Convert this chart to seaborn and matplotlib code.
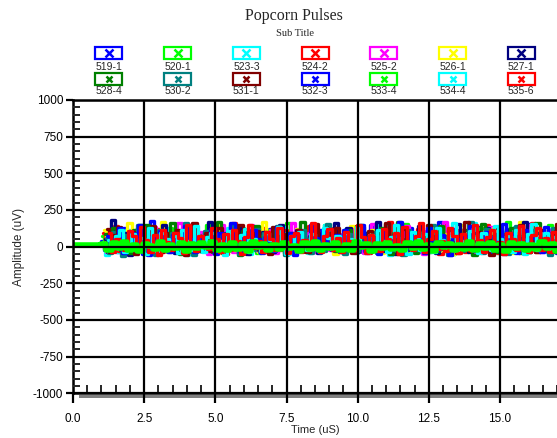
import numpy as np
import pandas as pd
import seaborn as sns
import matplotlib
matplotlib.use("Agg")
import matplotlib.pyplot as plt
from matplotlib.patches import Rectangle
from matplotlib.lines import Line2D
from matplotlib.ticker import MultipleLocator, FormatStrFormatter

# series names and colours (legend order)
labels = ['519-1', '520-1', '523-3', '524-2', '525-2', '526-1', '527-1',
          '528-4', '530-2', '531-1', '532-3', '533-4', '534-4', '535-6']
colors = ['#0000ff', '#00ff00', '#00ffff', '#ff0000', '#ff00ff', '#ffff00', '#000080',
          '#008000', '#008080', '#800000', '#0000ff', '#00ff00', '#00ffff', '#ff0000']

# amplitudes (uV)
s519 = [40, -25, 90, 15, -40, 130, 55, -10, 80, 5, -50, 65, 175, -20, 30, 110, -15, 50, 0, 95,
        -35, 120, 25, -30, 70, 40, -20, 100, 10, -45, 60, 140, -10, 35, 85, -30, 20, 105, -25, 50,
        120, -15, 70, 10, -40, 95, 30, 60, -20, 85, 15, -35, 110, 45, -10, 75,
        65, -30, 20, 115, -5, 45, -40, 90, 150, 10, -25, 55, 100, -15, 35, -50, 80, 125, 0, -35,
        60, 20, -20, 95, 165, -10, 40, -45, 70, 110, 5, -30, 50, 135, -15, 25, -40, 85, 15, -20,
        120, 45, -5, -35, 75, 155, 30, -25, 60, -10, 90, 20, -45, 105]
s520 = [70, -15, 45, 110, -30, 20, 85, -5, 60, 150, -25, 35, 90, -40, 15, 70, 125, -20, 55, 5,
        100, -35, 40, 80, -10, 145, 25, -30, 65, 10, 95, -20, 50, 130, -15, 30, 75, -45, 20, 110,
        60, -25, 85, 5, 160, -10, 40, 70, -30, 55, 100, -20, 35, 150, 10, 60,
        25, -40, 95, 60, -15, 135, 10, -30, 50, 85, -20, 115, 40, -5, -45, 70, 155, 20, -25, 60,
        100, -35, 30, -10, 80, 140, 15, -50, 45, 95, -20, 65, 5, -30, 125, 50, -15, 35, -40, 90,
        165, 20, -25, 70, 10, -35, 110, 55, -5, 40, 145, -20, 25, 80]
s523 = [30, -60, 85, 20, -35, 60, 110, -25, 45, 0, 75, -45, 95, 30, -15, 130, 50, -30, 15, 80,
        -55, 40, 105, -20, 65, 10, -40, 90, 35, -15, 125, 55, -25, 20, 70, -50, 45, 100, -10, 60,
        15, -35, 85, 135, -20, 40, 75, -5, 30, -45, 95, 50, -25, 145, 20, -10,
        -30, 65, 120, 15, -45, 40, 90, -20, 55, 150, -10, 30, -55, 80, 25, -35, 115, 60, -15, 45,
        -40, 95, 130, 5, -25, 70, 20, -50, 105, 35, -10, 85, 160, -30, 50, -20, 75, 15, -45, 100,
        40, -5, 135, 60, -35, 25, 90, -15, 55, -40, 120, 30, -25, 70]
s524 = [95, -20, 60, 140, -30, 25, 80, -45, 110, 35, -15, 70, 5, 120, -35, 50, 90, -25, 15, 65,
        -40, 150, 30, -10, 85, 45, -30, 100, 20, -50, 75, 160, -15, 40, 95, -25, 55, 10, 130, -35,
        70, 25, -20, 110, 45, -5, 80, -40, 60, 140, 15, -30, 90, 35, -15, 125,
        50, -35, 85, 20, -15, 135, 60, -45, 100, 30, -25, 75, 165, -10, 45, -40, 90, 15, -30, 120,
        55, -20, 35, 80, -50, 145, 25, -15, 65, 110, -35, 40, 5, -25, 95, 150, -10, 60, -45, 85,
        20, -30, 125, 45, -15, 70, 160, -40, 30, -20, 100, 55, -5, 80]
s525 = [20, -35, 50, 95, -15, 70, -45, 30, 110, -20, 60, 5, 135, -30, 45, 85, -10, 25, 160, -40,
        65, 15, -25, 100, 40, -50, 80, 10, 150, -20, 55, -35, 90, 30, -15, 145, 50, -30, 70, 5,
        115, -45, 35, 80, -10, 160, 25, -25, 60, 95, -40, 45, 10, 130, -20, 65,
        -30, 85, 40, -15, 125, 10, -45, 70, 155, -20, 35, 95, -35, 55, 5, -25, 140, 65, -10, 30,
        -50, 105, 45, -20, 80, 165, -30, 25, 90, -15, 50, 120, -40, 15, 75, -25, 135, 40, -5, 60,
        -45, 100, 20, -30, 85, 150, -15, 45, -35, 70, 110, -20, 30, 95]
s526 = [110, -30, 25, 70, -10, 45, 160, -25, 55, 15, -40, 85, 30, -20, 165, 50, -5, 20, -35, 75,
        40, 110, -15, 60, -30, 90, 10, 150, -45, 35, 65, -20, 105, 25, -10, 80, 45, -35, 170, 15,
        -25, 55, 90, -5, 30, -40, 120, 60, -15, 45, 155, 10, -30, 70, 25, -50,
        35, -20, 95, 140, -35, 20, 65, -10, 115, 50, -45, 80, 25, -15, 160, 40, -30, 70, -5, 105,
        55, -40, 30, 125, -20, 85, 15, -50, 60, 145, -10, 40, 95, -35, 20, 75, -25, 130, 50, -15,
        35, -45, 90, 165, 10, -30, 65, 110, -20, 45, -40, 80, 25, 135]
s527 = [55, -40, 180, 20, -10, 95, -55, 40, 75, -25, 125, 10, -35, 60, 150, -15, 30, -45, 85, 45,
        -20, 110, 5, -30, 70, 165, -10, 35, -40, 90, 25, -15, 135, 50, -50, 65, 15, -25, 100, 40,
        -35, 80, 145, -5, 20, -30, 115, 55, -20, 75, 10, -45, 90, 30, -15, 160,
        -25, 70, 125, 15, -40, 50, 95, -15, 35, 170, -30, 60, 5, -50, 110, 45, -20, 85, -35, 140,
        25, -10, 75, -45, 100, 55, -25, 30, 155, -15, 65, -40, 90, 20, -30, 130, 45, -5, 80, -50,
        115, 35, -20, 60, 165, -35, 25, 95, -10, 50, -45, 120, 40, 75]
s528 = [85, -30, 130, 40, -20, 70, -45, 110, 25, -10, 145, 55, -35, 90, 15, -25, 160, 35, -50, 75,
        -15, 120, 45, -30, 95, 10, -40, 165, 60, -20, 80, 25, -55, 105, 40, -15, 140, 70, -30, 55,
        -10, 125, 30, -45, 90, 15, -25, 165, 50, -35, 75, 20, -15, 135, 45, -30,
        60, -40, 110, 25, -20, 150, 45, -35, 80, -10, 125, 30, -50, 95, 165, -25, 55, 15, -45, 100,
        70, -15, 35, -30, 140, 50, -40, 85, 20, -20, 115, 60, -55, 40, 155, -10, 75, -35, 105, 25,
        -25, 130, 45, -45, 90, 10, -15, 160, 55, -30, 70, -40, 120, 35]
s530 = [60, -45, 100, 25, -65, 80, 35, -30, 145, 50, -20, 70, -55, 115, 15, -35, 90, 40, -15, 160,
        25, -60, 75, -25, 105, 45, -40, 85, 20, -10, 150, 55, -50, 65, 30, -20, 120, -35, 95, 40,
        -15, 140, 10, -55, 80, 35, -25, 110, 50, -45, 70, 15, -30, 155, 25, -10,
        40, -50, 85, 20, -30, 135, 55, -15, 100, -45, 70, 155, 30, -25, 60, -60, 115, 45, -20, 90,
        10, -40, 145, 35, -15, 75, -55, 105, 50, -30, 80, 165, -10, 40, -45, 120, 25, -25, 95, 60,
        -50, 70, 140, -20, 35, -35, 110, 45, -10, 85, -55, 130, 20, 65]
s531 = [120, -35, 80, 135, -20, 45, 100, -50, 70, 25, -15, 140, 60, -40, 90, 15, -25, 110, 35, -55,
        75, 160, -20, 55, 95, -30, 40, 125, -45, 65, 10, -15, 150, 80, -35, 50, 105, -25, 30, -50,
        135, 70, -10, 85, 45, -30, 115, 20, -40, 60, 155, -20, 40, 90, -15, 130,
        -25, 95, 50, -45, 140, 20, -15, 105, 65, -35, 35, 160, -20, 80, -50, 120, 45, -10, 90, 25,
        -40, 150, 70, -25, 55, -15, 110, 30, -45, 85, 165, -30, 40, 100, -20, 60, -55, 130, 15, -10,
        95, 45, -35, 145, 75, -20, 35, -40, 115, 55, -15, 85, 155, 25]
s532 = [75, -30, 50, 125, -45, 20, 90, -15, 150, 35, -60, 65, -20, 105, 45, -35, 80, 10, -25, 140,
        55, -40, 70, 25, -15, 120, -50, 95, 40, -20, 160, 30, -35, 85, -10, 110, 50, -45, 65, 15,
        -30, 135, 40, -20, 90, -55, 75, 25, -10, 145, 60, -35, 100, 20, -25, 80,
        -40, 115, 35, -15, 90, 150, -30, 60, 10, -50, 105, 45, -20, 75, 165, -35, 25, 95, -10, 55,
        -45, 130, 40, -25, 80, 15, -55, 120, 50, -15, 70, 140, -30, 30, -40, 100, 65, -20, 45, 155,
        -10, 85, -45, 35, 110, -25, 60, 20, -35, 135, 50, -15, 90, 75]
s533 = [10, 10, 10, 10, 10, 10,
        15, -20, 25, -10, 30, -25, 10, -30, 20, 5, -15, 28, -22, 12, -8, 26, -28, 18, -12, 22,
        -5, 30, -20, 8, -26, 24, -14, 16, -30, 28, -6, 20, -24, 10, -18, 26, -10, 4, -28, 22,
        -16, 30, -22, 14, -8, 24, -26, 12, -20, 28, -4, 18, -30, 20, -12, 26, -18, 6, -24, 22,
        -10, 30, -16, 14, -28, 24, -6, 20, -22, 10, -14, 28, -26, 16, -8, 22, -20, 12, -30, 26,
        -12, 18, -24, 8, -16, 30, -10, 20, -28, 14]
s534 = [45, -25, 70, 115, -40, 30, 85, -15, 60, -50, 130, 20, -30, 95, 50, -10, 75, -45, 110, 35,
        -20, 140, 15, -35, 65, 90, -25, 40, -55, 105, 25, -15, 80, 120, -40, 55, 10, -30, 95, 45,
        -20, 135, 30, -50, 70, -10, 100, 40, -25, 85, 15, -35, 125, 60, -15, 75,
        -30, 95, 50, -20, 135, 25, -45, 80, -10, 115, 40, -35, 65, 150, -15, 30, -50, 100, 55, -25,
        85, 10, -40, 125, 45, -20, 70, 160, -30, 35, -10, 105, 60, -45, 90, 20, -25, 140, 50, -15,
        75, -35, 110, 30, -50, 85, 155, -20, 40, 95, -30, 65, 15, 120]
s535 = [90, -40, 55, 20, -25, 105, 70, -15, 135, 45, -35, 80, -55, 115, 30, -20, 95, 60, -45, 150,
        25, -30, 75, 10, -15, 125, 50, -40, 85, -25, 110, 35, -50, 65, 145, -10, 40, -35, 100, 55,
        -20, 130, 15, -45, 75, 90, -30, 45, -15, 160, 25, -40, 70, 120, -25, 60,
        -35, 100, 40, -20, 145, 65, -45, 80, 15, -30, 120, 55, -10, 90, -50, 135, 30, -25, 75, 160,
        -40, 50, 105, -15, 35, -30, 125, 70, -45, 85, 20, -20, 150, 45, -35, 65, 110, -10, 30, -50,
        95, 55, -25, 140, 15, -40, 80, 125, -20, 60, -35, 100, 35, 70]

series = [s519, s520, s523, s524, s525, s526, s527, s528, s530, s531, s532, s533, s534, s535]

# long-form table; the low-noise lime trace (533-4) is drawn last, on top
rows = []
for i, (name, vals) in enumerate(zip(labels, series)):
    if name == '533-4':
        t = np.linspace(0.0, 17.2, len(vals))
    else:
        t = np.linspace(1.0 + 0.02 * i, 17.2, len(vals))
    rows.append(pd.DataFrame({'t': t, 'amp': vals, 'series': name}))
df = pd.concat(rows, ignore_index=True)

sns.set_style("white")
plt.rcParams['font.family'] = ['Liberation Sans', 'DejaVu Sans']
plt.rcParams['axes.unicode_minus'] = False

fig = plt.figure(figsize=(5.57, 4.38), dpi=100)
ax = fig.add_axes([0.131, 0.102, 0.869, 0.670])

order = [l for l in labels if l != '533-4']
pal = {}
for name, c in zip(labels, colors):
    pal[name] = c
noisy = df[df['series'] != '533-4']
sns.lineplot(data=noisy, x='t', y='amp', hue='series', hue_order=order, palette=pal,
             estimator=None, sort=False, drawstyle='steps-mid', linewidth=2.4,
             legend=False, ax=ax)
sns.lineplot(data=df[df['series'] == '533-4'], x='t', y='amp', color='#00ff00',
             estimator=None, sort=False, drawstyle='steps-mid', linewidth=4.0,
             legend=False, ax=ax)

ax.set_xlim(0, 17)
ax.set_ylim(-1000, 1000)
ax.xaxis.set_major_locator(MultipleLocator(2.5))
ax.xaxis.set_minor_locator(MultipleLocator(0.5))
ax.yaxis.set_major_locator(MultipleLocator(250))
ax.yaxis.set_minor_locator(MultipleLocator(50))
ax.xaxis.set_major_formatter(FormatStrFormatter('%.1f'))
ax.grid(which='major', color='black', linewidth=1.6)
ax.set_axisbelow(False)
ax.spines['right'].set_visible(False)
for sp in ['left', 'bottom', 'top']:
    ax.spines[sp].set_linewidth(1.8)
    ax.spines[sp].set_color('black')
ax.tick_params(which='major', direction='out', width=1.6, labelsize=8.5,
               colors='black')
ax.tick_params(axis='y', which='major', left=True, length=5, pad=2)
ax.tick_params(axis='x', which='major', bottom=True, length=7, pad=7)
ax.tick_params(axis='y', which='minor', direction='in', length=5, width=1.4, left=True)
ax.tick_params(axis='x', which='minor', direction='in', length=6, width=1.4, bottom=True)
ax.set_xlabel('Time (uS)', fontsize=8, labelpad=0)
ax.set_ylabel('Amplitude (uV)', fontsize=8.5, labelpad=6)

# grey shadow under the x axis
ax.add_patch(Rectangle((0.012, -0.017), 1.0, 0.012, transform=ax.transAxes,
                       facecolor='#808080', edgecolor='none', clip_on=False, zorder=1))

# titles
W, H = 557.0, 438.0
fig.text(294 / W, 1 - 16 / H, 'Popcorn Pulses', ha='center', va='center',
         fontsize=11.5, family='Liberation Serif')
fig.text(295 / W, 1 - 33 / H, 'Sub Title', ha='center', va='center',
         fontsize=7.5, family='Liberation Serif')

# legend: boxes with an x marker, label underneath
for k, (name, c) in enumerate(zip(labels, colors)):
    row, col = divmod(k, 7)
    cx = 109 + 68.7 * col
    by = 53 + 26 * row
    ly = 67 + 24 * row
    fig.add_artist(Rectangle(((cx - 13.5) / W, 1 - (by + 6) / H), 27 / W, 12 / H,
                             transform=fig.transFigure, facecolor='white',
                             edgecolor=c, linewidth=1.6))
    fig.add_artist(Line2D([cx / W], [1 - by / H], transform=fig.transFigure,
                          marker='x', color=c, markersize=4.5 if row else 5.5,
                          markeredgewidth=1.8, linestyle='none'))
    fig.text(cx / W, 1 - ly / H, name, ha='center', va='center', fontsize=7.5)

fig.savefig('out.png', dpi=100)
